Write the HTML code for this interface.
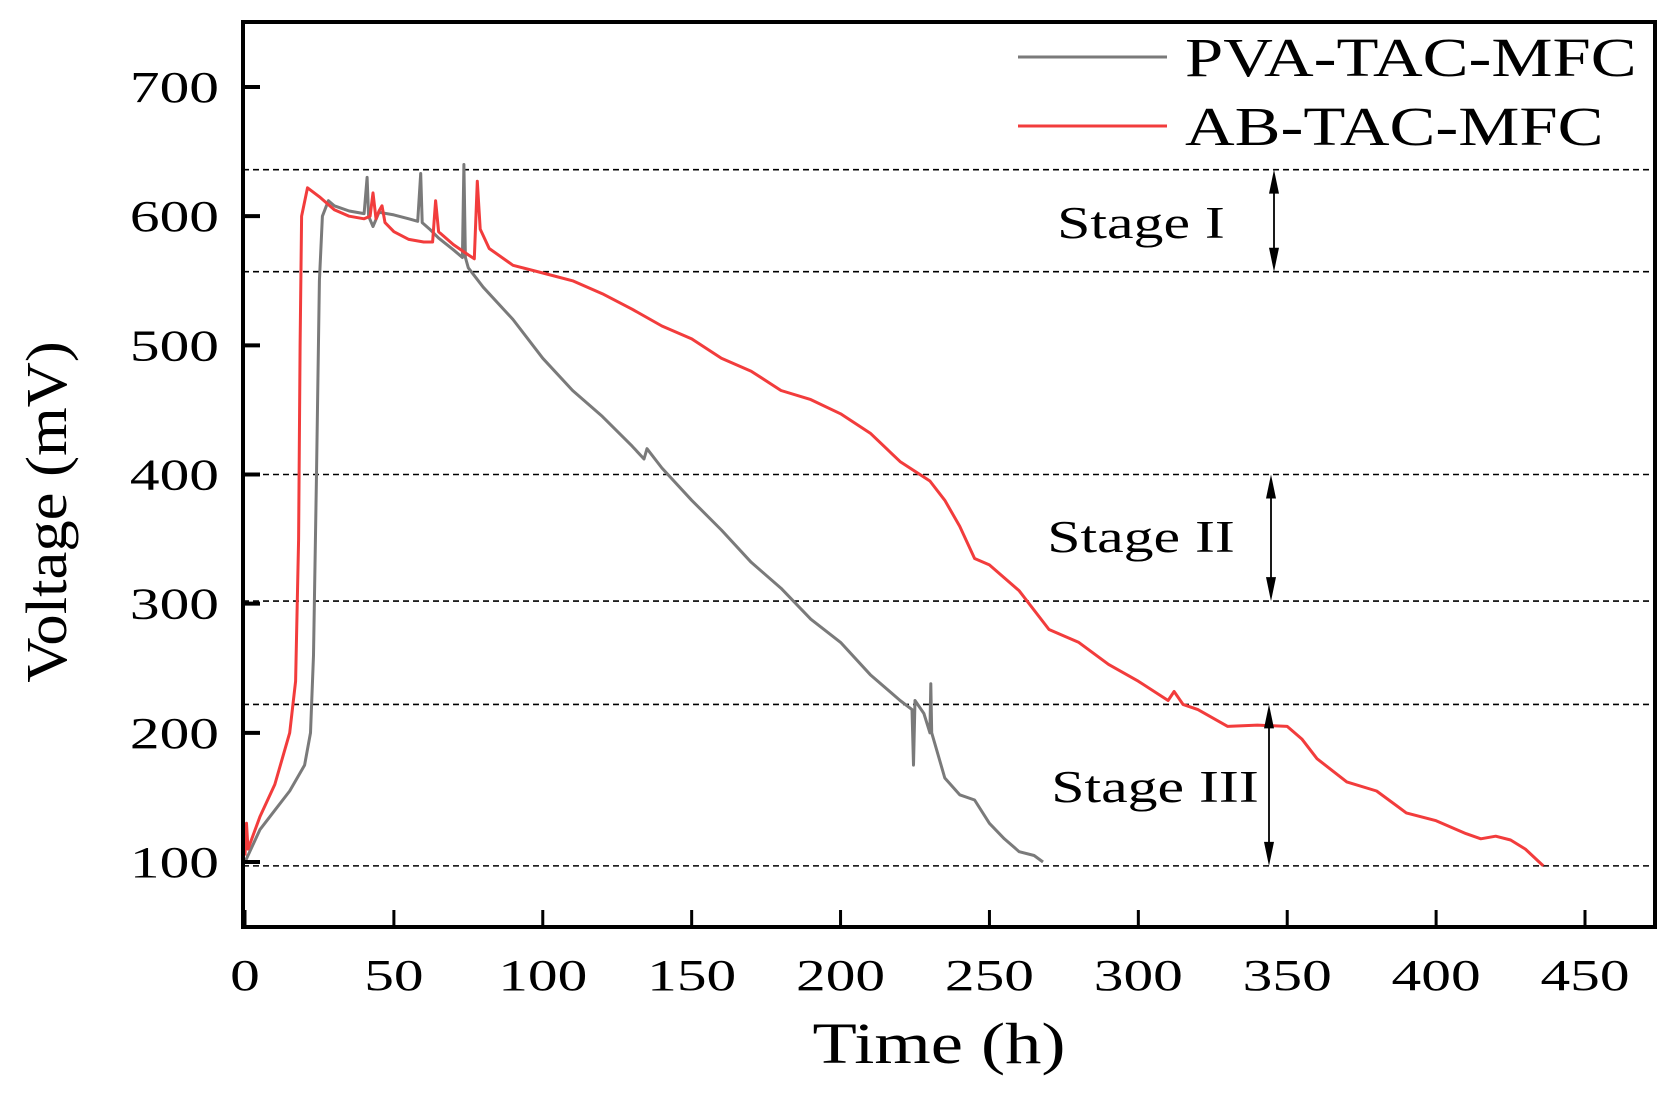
<!DOCTYPE html>
<html><head><meta charset="utf-8"><style>
html,body{margin:0;padding:0;background:#fff;}
svg{display:block;font-family:"Liberation Serif",serif;}
</style></head><body>
<svg id="chart" width="1663" height="1093" viewBox="0 0 1663 1093" xmlns="http://www.w3.org/2000/svg"></svg>
<script>
const xTicks=[0,50,100,150,200,250,300,350,400,450];
const yTicks=[100,200,300,400,500,600,700];
const stageLines=[636,557,400,302,222,97];
const pvaT=[0,5,10,15,20,22,23,24,25,26,28,30,35,40,41,41.5,43,45,50,55,58,59,59.5,62,65,70,73,73.5,74,75,80,90,100,110,120,130,134,135,140,150,160,170,180,190,200,210,220,224,224.5,225,228,230,230.3,230.6,235,240,245,250,255,260,265,268];
const pvaV=[100,125,140,155,175,200,260,400,550,600,612,608,604,602,630,600,592,603,601,598,596,633,595,590,583,574,568,640,568,560,545,520,490,465,445,422,412,420,405,380,357,332,312,288,270,245,225,218,175,225,215,200,238,200,165,152,148,130,118,108,105,100];
const abT=[0,0.5,1,5,10,15,17,18,18.5,19,21,25,30,35,40,42,43,44,45,46,47,50,55,60,63,64,65,70,75,77,78,79,82,90,100,110,120,130,140,150,160,170,180,190,200,210,220,230,235,240,245,250,260,270,280,290,300,310,312,315,320,330,340,350,355,360,370,380,390,400,410,415,420,425,430,436];
const abV=[105,130,110,135,160,200,240,350,500,600,622,615,605,600,598,600,618,598,604,608,595,588,582,580,580,612,588,578,570,567,627,590,575,562,556,550,540,528,515,505,490,480,465,458,447,432,410,395,380,360,335,330,310,280,270,253,240,225,232,222,218,205,206,205,195,180,162,155,138,132,122,118,120,117,110,97];

const svg=document.getElementById('chart');
const NS='http://www.w3.org/2000/svg';
const L=243,R=1655,T=22,B=927;
const X=t=>245+t*(1585-245)/450;
const Y=v=>862-(v-100)*(862-87)/600;
function mk(tag,attrs,parent){const e=document.createElementNS(NS,tag);for(const k in attrs)e.setAttribute(k,attrs[k]);(parent||svg).appendChild(e);return e;}
function txt(x,y,s,size,sx,anchor,parent,rot){
 const tr=rot?`translate(${x},${y}) rotate(-90) scale(${sx},1)`:`translate(${x},${y}) scale(${sx},1)`;
 const t=mk('text',{x:0,y:0,'font-size':size,'text-anchor':anchor,transform:tr},parent);
 t.textContent=s;return t;
}

stageLines.forEach(v=>{
 const l=mk('line',{x1:L,x2:R,y1:Y(v),y2:Y(v),stroke:'#000','stroke-width':1.6,'stroke-dasharray':'6,4'});
 
 
});
function series(ts,vs,color,name){
 const d=ts.map((t,i)=>(i?'L':'M')+X(t).toFixed(1)+','+Y(vs[i]).toFixed(1)).join('');
 const p=mk('path',{d:d,fill:'none',stroke:color,'stroke-width':3,'stroke-linejoin':'round'});
 
 
}
series(pvaT,pvaV,'#7a7a7a','pva-tac-mfc-line');
series(abT,abV,'#f23c3c','ab-tac-mfc-line');

const f=mk('rect',{x:L,y:T,width:R-L,height:B-T,fill:'none',stroke:'#000','stroke-width':4});



xTicks.forEach(t=>{
 const tk=mk('line',{x1:X(t),x2:X(t),y1:B,y2:B-17,stroke:'#000','stroke-width':3});
 
 
 const tx=txt(X(t),990,String(t),44,1.35,'middle');
 
 
});
yTicks.forEach(v=>{
 const tk=mk('line',{x1:L,x2:L+17,y1:Y(v),y2:Y(v),stroke:'#000','stroke-width':4});
 
 
 const tx=txt(219,Y(v)+15,String(v),44,1.35,'end');
 
 
});

function arrow(x,v1,v2){
 const g=mk('g',{});
 
 
 const y1=Y(v1),y2=Y(v2);
 mk('line',{x1:x,x2:x,y1:y1+10,y2:y2-10,stroke:'#000','stroke-width':1.8},g);
 mk('polygon',{points:`${x},${y1} ${x-5},${y1+24} ${x+5},${y1+24}`,fill:'#000'},g);
 mk('polygon',{points:`${x},${y2} ${x-5},${y2-24} ${x+5},${y2-24}`,fill:'#000'},g);
}
arrow(1274,636,557);arrow(1271,400,302);arrow(1269,222,97);
[['Stage I',1141,238,'stage-i-label'],['Stage II',1141,552,'stage-ii-label'],['Stage III',1155,802,'stage-iii-label']].forEach(s=>{
 const t=txt(s[1],s[2],s[0],46,1.3,'middle');
 
 
});

[['PVA-TAC-MFC','#7a7a7a',57,'legend-entry-pva'],['AB-TAC-MFC','#f23c3c',126,'legend-entry-ab']].forEach(e=>{
 const g=mk('g',{});
 
 
 mk('line',{x1:1018,x2:1167,y1:e[2],y2:e[2],stroke:e[1],'stroke-width':3},g);
 txt(1185,e[2]+19,e[0],55,1.25,'start',g);
});

const xt=txt(939,1063,'Time (h)',58,1.25,'middle');


const yt=txt(66,512,'Voltage (mV)',58,1.08,'middle',null,true);


</script>
</body></html>
